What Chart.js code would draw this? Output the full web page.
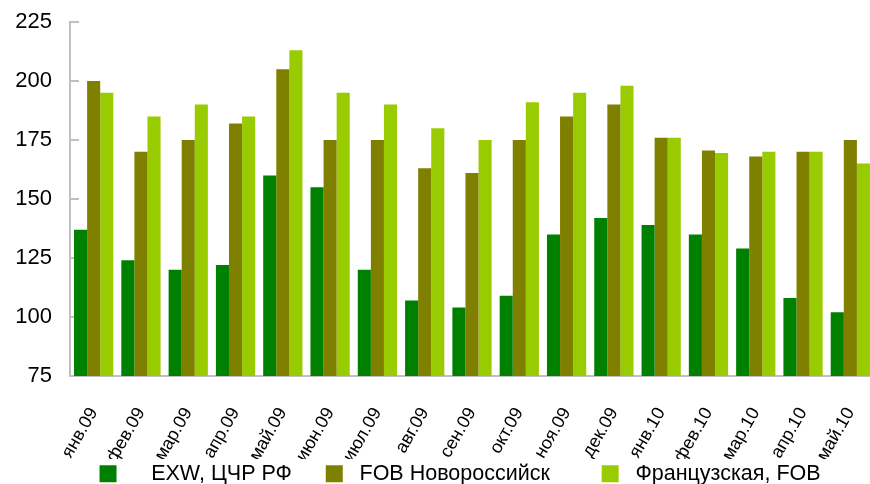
<!DOCTYPE html>
<html>
<head>
<meta charset="utf-8">
<script src="https://cdn.jsdelivr.net/npm/chart.js@4.4.0/dist/chart.umd.min.js"></script>
<style>
html, body { margin: 0; padding: 0; background: #fff; overflow: hidden; }
</style>
</head>
<body>
<canvas id="chart" width="874" height="484"></canvas>
<script>
// DATA
const months = ['янв.09', 'фев.09', 'мар.09', 'апр.09', 'май.09', 'июн.09', 'июл.09', 'авг.09', 'сен.09',
    'окт.09', 'ноя.09', 'дек.09', 'янв.10', 'фев.10', 'мар.10', 'апр.10', 'май.10'];
const exwCentral = [137, 124, 120, 122, 160, 155, 120, 107, 104, 109, 135, 142, 139, 135, 129, 108, 102];
const fobNovoross = [200, 170, 175, 182, 205, 175, 175, 163, 161, 175, 185, 190, 176, 170.5, 168, 170, 175];
const frenchFob = [195, 185, 190, 185, 213, 195, 190, 180, 175, 191, 195, 198, 176, 169.5, 170, 170, 165];
const yMin = 75, yMax = 225, yStep = 25;

const FONT = "'Liberation Sans', Arial, sans-serif";

// petits traits de graduation vers l'intérieur
const innerTicks = {
    id: 'innerTicks',
    beforeDatasetsDraw(chart) {
        const y = chart.scales.y;
        const ctx = chart.ctx;
        ctx.save();
        ctx.strokeStyle = '#c0c0c0';
        ctx.lineWidth = 2;
        y.ticks.forEach((t, i) => {
            const py = y.getPixelForTick(i);
            ctx.beginPath();
            ctx.moveTo(y.right, py);
            ctx.lineTo(y.right + 9, py);
            ctx.stroke();
        });
        ctx.restore();
    }
};

// espaces pour imiter l'écartement de la légende Excel
const legendGaps = [['    ', '     '], [' ', '        '], [' ', '    ']];

new Chart(document.getElementById('chart'), {
    type: 'bar',
    data: {
        labels: months,
        datasets: [
            { label: 'EXW, ЦЧР РФ', data: exwCentral, backgroundColor: '#008000' },
            { label: 'FOB Новороссийск', data: fobNovoross, backgroundColor: '#808000' },
            { label: 'Французская, FOB', data: frenchFob, backgroundColor: '#99cc00' }
        ]
    },
    options: {
        responsive: false,
        animation: false,
        layout: { padding: { top: 22, left: 0, right: 0, bottom: 0 } },
        datasets: { bar: { categoryPercentage: 0.83, barPercentage: 1 } },
        plugins: {
            tooltip: { enabled: false },
            legend: {
                position: 'bottom',
                fullSize: false,
                maxHeight: 25,
                labels: {
                    font: { family: FONT, size: 21.5 },
                    color: '#000',
                    boxWidth: 17,
                    boxHeight: 17,
                    padding: 4,
                    generateLabels(chart) {
                        const items = Chart.defaults.plugins.legend.labels.generateLabels(chart);
                        items.forEach((it, i) => {
                            it.text = legendGaps[i][0] + it.text + legendGaps[i][1];
                            it.lineWidth = 0;
                        });
                        return items;
                    }
                }
            }
        },
        scales: {
            x: {
                grid: { display: false, drawTicks: false },
                border: { display: true, color: '#c0c0c0', width: 2 },
                ticks: {
                    font: { family: FONT, size: 18 },
                    color: '#000',
                    minRotation: 60,
                    maxRotation: 60,
                    padding: 28
                },
                afterFit: s => {
                    s.height = 83;
                    s.paddingLeft = 0;
                    s.paddingRight = 0;
                }
            },
            y: {
                min: yMin,
                max: yMax,
                grid: { display: false, drawTicks: false },
                border: { display: true, color: '#c0c0c0', width: 2 },
                ticks: {
                    stepSize: yStep,
                    font: { family: FONT, size: 22 },
                    color: '#000',
                    padding: 18
                },
                afterFit: s => {
                    s.width = 70;
                    s.paddingTop = 0;
                    s.paddingBottom = 0;
                }
            }
        }
    },
    plugins: [innerTicks]
});
</script>
</body>
</html>
